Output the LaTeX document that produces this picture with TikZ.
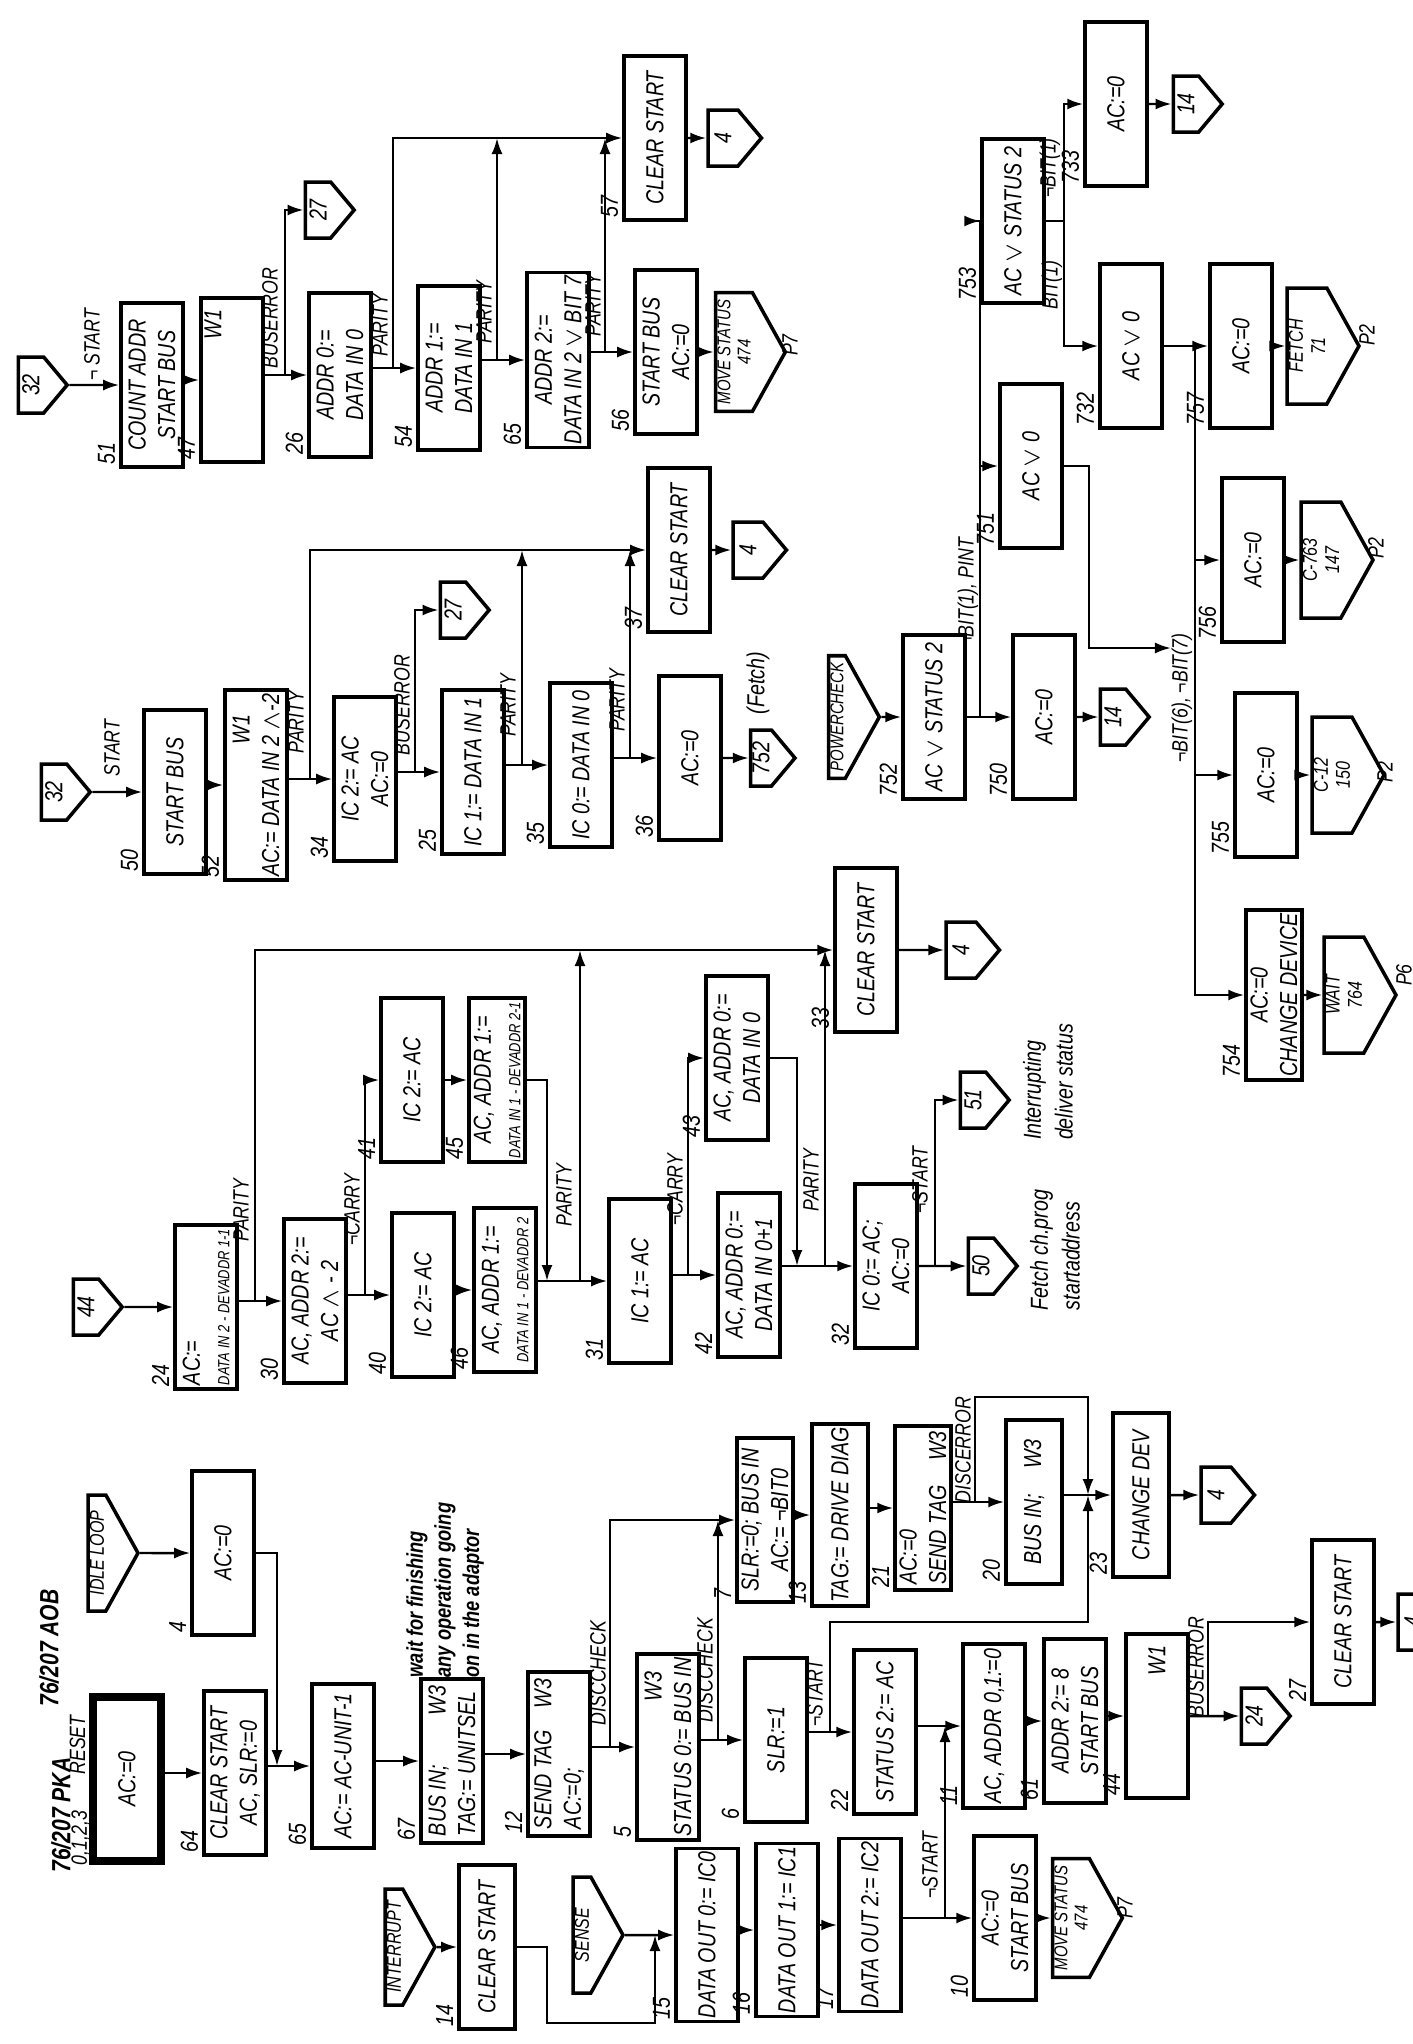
\documentclass[tikz,border=0pt]{standalone}
\usepackage{fontspec}
\usepackage{tikz}
\usetikzlibrary{arrows.meta,shapes.symbols}
\newfontfamily\hand[FakeStretch=0.8]{Liberation Sans}
\newcommand{\boxfont}{\hand\itshape\fontsize{7}{8.4}\selectfont}
\newcommand{\tagfont}{\hand\itshape\fontsize{6.3}{7.5}\selectfont}
\newcommand{\tinyfont}{\hand\itshape\fontsize{4.6}{5.5}\selectfont}
\newcommand{\notefont}{\hand\itshape\bfseries\fontsize{6.5}{8}\selectfont}

\begin{document}
\begin{tikzpicture}[x=0.1mm, y=-0.1mm,
    box/.style={draw, line width=1pt, rotate=90, minimum width=16.4mm,
                minimum height=6.2mm, inner sep=1pt, align=center, font=\boxfont},
    narrow/.style={minimum height=5.6mm},
    conn/.style={draw, line width=1pt, rotate=90, shape=signal, signal to=south,
                 signal pointer angle=100, minimum width=5.6mm, minimum height=3.6mm,
                 inner sep=0.5pt, align=center, font=\boxfont},
    wide/.style={minimum width=11.6mm, signal pointer angle=122, inner xsep=2pt,
                 font=\hand\itshape\fontsize{5.7}{6.3}\selectfont},
    tight/.style={font=\hand\itshape\fontsize{5.3}{5.8}\selectfont},
    num/.style={rotate=90, anchor=south west, inner sep=1pt, font=\boxfont},
    tag/.style={rotate=90, inner sep=0pt, font=\tagfont},
    note/.style={rotate=90, inner sep=0pt, align=left, font=\notefont},
    arrow/.style={-{Latex[length=1.6mm,width=1.1mm]}, line width=0.7pt},
    line/.style={line width=0.7pt}
]
\useasboundingbox (0,0) rectangle (1413,2044);

% top row: 32 -> count addr
\node[conn] (c32a) at (31,385) {32};
\node[box] (b51) at (152,385) {COUNT ADDR\\START BUS};
\node[box] (b47) at (232,380) {\makebox[14mm][r]{W1}\\\strut};
\node[box] (b26) at (340,375) {ADDR 0:=\\DATA IN 0};
\node[box] (b54) at (449,368) {ADDR 1:=\\DATA IN 1};
\node[box] (b65) at (558,360) {ADDR 2:=\\DATA IN 2 $\vee$ BIT 7};
\node[box] (b56) at (666,352) {START BUS\\AC:=0};
\node[conn, wide, tight] (cMv1) at (734,352) {MOVE STATUS\\474};
\node[box] (b57) at (655,138) {CLEAR START};
\node[conn] (c4a) at (723,138) {4};
\node[conn] (c27a) at (318,210) {27};
\node[num] (l51) at (b51.north west) {51};
\node[num] (l47) at (b47.north west) {47};
\node[num] (l26) at (b26.north west) {26};
\node[num] (l54) at (b54.north west) {54};
\node[num] (l65) at (b65.north west) {65};
\node[num] (l56) at (b56.north west) {56};
\node[num] (l57) at (b57.north west) {57};
\coordinate (jb1) at (285,375);
\coordinate (jp1) at (393,368);
\coordinate (jp2) at (497,360);
\coordinate (jp3) at (605,352);
\draw[arrow] (c32a) -- (b51);
\draw[arrow] (b51.south |- b47) -- (b47);
\draw[arrow] (b47.south |- b26) -- (b26);
\draw[arrow] (b26.south |- b54) -- (b54);
\draw[arrow] (b54.south |- b65) -- (b65);
\draw[arrow] (b65.south |- b56) -- (b56);
\draw[arrow] (b56) -- (cMv1);
\draw[arrow] (b57) -- (c4a);
\draw[arrow] (jb1) |- (c27a);
\draw[arrow] (jp1) |- (b57);
\draw[arrow] (jp2) -- (jp2 |- b57);
\draw[arrow] (jp3) -- (jp3 |- b57);
\node[tag] (t1) at (92,345) {¬ START};
\node[tag] (t2) at (270,318) {BUSERROR};
\node[tag] (t3) at (380,325) {PARITY};
\node[tag] (t4) at (484,312) {PARITY};
\node[tag] (t5) at (593,305) {PARITY};
\node[tag] (p7a) at (790,345) {P7};

% second row: 32 -> start bus
\node[conn] (c32b) at (54,792) {32};
\node[box] (b50) at (175,792) {START BUS};
\node[box] (b52) at (256,785) {\makebox[14mm][r]{W1}\\AC:= DATA IN 2 $\wedge$-2};
\node[box] (b34) at (365,779) {IC 2:= AC\\AC:=0};
\node[box] (b25) at (473,772) {IC 1:= DATA IN 1};
\node[box] (b35) at (581,765) {IC 0:= DATA IN 0};
\node[box] (b36) at (690,758) {AC:=0};
\node[conn] (c752) at (761,758) {752};
\node[box] (b37) at (679,550) {CLEAR START};
\node[conn] (c4b) at (748,550) {4};
\node[conn] (c27b) at (453,610) {27};
\node[num] (l50) at (b50.north west) {50};
\node[num] (l52) at (b52.north west) {52};
\node[num] (l34) at (b34.north west) {34};
\node[num] (l25) at (b25.north west) {25};
\node[num] (l35) at (b35.north west) {35};
\node[num] (l36) at (b36.north west) {36};
\node[num] (l37) at (b37.north west) {37};
\coordinate (jp4) at (310,779);
\coordinate (jb2) at (415,772);
\coordinate (jp5) at (522,765);
\coordinate (jp6) at (630,758);
\draw[arrow] (c32b) -- (b50);
\draw[arrow] (b50.south |- b52) -- (b52);
\draw[arrow] (b52.south |- b34) -- (b34);
\draw[arrow] (b34.south |- b25) -- (b25);
\draw[arrow] (b25.south |- b35) -- (b35);
\draw[arrow] (b35.south |- b36) -- (b36);
\draw[arrow] (b36) -- (c752);
\draw[arrow] (b37) -- (c4b);
\draw[arrow] (jp4) |- (b37);
\draw[arrow] (jb2) |- (c27b);
\draw[arrow] (jp5) -- (jp5 |- b37);
\draw[arrow] (jp6) -- (jp6 |- b37);
\node[tag] (t6) at (112,748) {START};
\node[tag] (t7) at (296,722) {PARITY};
\node[tag] (t8) at (402,705) {BUSERROR};
\node[tag] (t9) at (508,705) {PARITY};
\node[tag] (t10) at (617,700) {PARITY};
\node[note, font=\hand\itshape\fontsize{7}{8}\selectfont] (nFe) at (758,683) {(Fetch)};

% powercheck
\node[conn, wide, tight] (cPow) at (837,717) {POWERCHECK};
\node[box] (b752) at (934,717) {AC $\vee$ STATUS 2};
\node[box] (b750) at (1044,717) {AC:=0};
\node[conn] (c14b) at (1113,717) {14};
\node[box] (b751) at (1031,466) {AC $\vee$ 0};
\node[box] (b753) at (1013,221) {AC $\vee$ STATUS 2};
\node[box] (b733) at (1116,104) {AC:=0};
\node[conn] (c14a) at (1186,104) {14};
\node[box] (b732) at (1131,346) {AC $\vee$ 0};
\node[box] (b757) at (1241,346) {AC:=0};
\node[conn, wide] (cFet) at (1307,346) {FETCH\\71};
\node[box] (b756) at (1253,560) {AC:=0};
\node[conn, wide] (c763) at (1321,560) {C-763\\147};
\node[box] (b755) at (1266,775) {AC:=0};
\node[conn, wide] (c12) at (1332,775) {C-12\\150};
\node[box, narrow] (b754) at (1274,995) {AC:=0\\CHANGE DEVICE};
\node[conn, wide] (cWait) at (1344,995) {WAIT\\764};
\node[num] (l752) at (b752.north west) {752};
\node[num] (l750) at (b750.north west) {750};
\node[num] (l751) at (b751.north west) {751};
\node[num] (l753) at (b753.north west) {753};
\node[num] (l733) at (b733.north west) {733};
\node[num] (l732) at (b732.north west) {732};
\node[num] (l757) at (b757.north west) {757};
\node[num] (l756) at (b756.north west) {756};
\node[num] (l755) at (b755.north west) {755};
\node[num] (l754) at (b754.north west) {754};
\node[tag] (t11) at (968,593) {¬BIT(1), PINT};
\node[tag] (t12) at (1050,168) {¬BIT(1)};
\node[tag] (t13) at (1052,285) {BIT(1)};
\node[tag] (t14) at (1182,698) {¬BIT(6), ¬BIT(7)};
\node[tag] (p2a) at (1367,335) {P2};
\node[tag] (p2b) at (1376,548) {P2};
\node[tag] (p2c) at (1385,772) {P2};
\node[tag] (p6) at (1404,975) {P6};
\coordinate (jk) at (980,717);
\coordinate (jt) at (1064,221);
\coordinate (jbus) at (1195,346);
\coordinate (jb6) at (1195,648);
\draw[arrow] (cPow) -- (b752);
\draw[arrow] (b752) -- (b750);
\draw[arrow] (b750) -- (c14b);
\draw[arrow] (jk) |- (b751);
\draw[arrow] (jk) |- (b753);
\draw[line] (b753) -- (jt);
\draw[arrow] (jt) |- (b733);
\draw[arrow] (jt) |- (b732);
\draw[arrow] (b733) -- (c14a);
\draw[arrow] (b732) -- (b757);
\draw[arrow] (b757) -- (cFet);
\draw[arrow] (b751.south) -- ++(25,0) |- (t14.north |- jb6);
\draw[arrow] (jbus) |- (b754);
\draw[arrow] (jbus |- b756) -- (b756);
\draw[arrow] (jbus |- b755) -- (b755);
\draw[arrow] (b756) -- (c763);
\draw[arrow] (b755) -- (c12);
\draw[arrow] (b754) -- (cWait);

% third row: 44 -> devaddr
\node[conn] (c44) at (86,1307) {44};
\node[box, align=left] (b24) at (206,1307) {AC:=\\{\tinyfont DATA IN 2 - DEVADDR 1-1}};
\node[box] (b30) at (315,1301) {AC, ADDR 2:=\\AC $\wedge$ - 2};
\node[box] (b40) at (423,1295) {IC 2:= AC};
\node[box] (b46) at (505,1290) {AC, ADDR 1:=\\{\tinyfont DATA IN 1 - DEVADDR 2}};
\node[box] (b31) at (640,1281) {IC 1:= AC};
\node[box] (b42) at (749,1275) {AC, ADDR 0:=\\DATA IN 0+1};
\node[box] (b32) at (886,1266) {IC 0:= AC;\\AC:=0};
\node[conn] (c50) at (981,1266) {50};
\node[box] (b41) at (412,1080) {IC 2:= AC};
\node[box, narrow] (b45) at (497,1080) {AC, ADDR 1:=\\{\tinyfont DATA IN 1 - DEVADDR 2-1}};
\node[box] (b43) at (737,1058) {AC, ADDR 0:=\\DATA IN 0};
\node[box] (b33) at (866,950) {CLEAR START};
\node[conn] (c4c) at (961,950) {4};
\node[conn] (c51) at (973,1100) {51};
\node[num] (l24) at (b24.north west) {24};
\node[num] (l30) at (b30.north west) {30};
\node[num] (l40) at (b40.north west) {40};
\node[num] (l46) at (b46.north west) {46};
\node[num] (l31) at (b31.north west) {31};
\node[num] (l42) at (b42.north west) {42};
\node[num] (l32) at (b32.north west) {32};
\node[num] (l41) at (b41.north west) {41};
\node[num] (l45) at (b45.north west) {45};
\node[num] (l43) at (b43.north west) {43};
\node[num] (l33) at (b33.north west) {33};
\coordinate (jp7) at (255,1301);
\coordinate (jc1) at (365,1295);
\coordinate (j45) at (547,1281);
\coordinate (jp8) at (580,1281);
\coordinate (jc2) at (688,1275);
\coordinate (j43) at (797,1266);
\coordinate (jp9) at (825,1266);
\coordinate (js1) at (935,1266);
\draw[arrow] (c44) -- (b24);
\draw[arrow] (b24.south |- b30) -- (b30);
\draw[arrow] (b30.south |- b40) -- (b40);
\draw[arrow] (b40.south |- b46) -- (b46);
\draw[arrow] (b46.south |- b31) -- (b31);
\draw[arrow] (b31.south |- b42) -- (b42);
\draw[arrow] (b42.south |- b32) -- (b32);
\draw[arrow] (b32) -- (c50);
\draw[arrow] (b41) -- (b45);
\draw[arrow] (b33) -- (c4c);
\draw[arrow] (jp7) |- (b33);
\draw[arrow] (jc1) |- (b41);
\draw[arrow] (b45.south) -| (j45);
\draw[arrow] (jp8) -- (jp8 |- b33);
\draw[arrow] (jc2) |- (b43);
\draw[arrow] (b43.south) -| (j43);
\draw[arrow] (jp9) -- (jp9 |- b33);
\draw[arrow] (js1) |- (c51);
\node[tag] (t15) at (241,1210) {PARITY};
\node[tag] (t16) at (352,1210) {¬CARRY};
\node[tag] (t17) at (564,1195) {PARITY};
\node[tag] (t18) at (675,1190) {¬CARRY};
\node[tag] (t19) at (811,1180) {PARITY};
\node[tag] (t20) at (920,1180) {¬START};
\node[note, font=\hand\itshape\fontsize{7}{9}\selectfont] (nInt) at (1048,1082) {Interrupting\\deliver status};
\node[note, font=\hand\itshape\fontsize{7}{9}\selectfont] (nSta) at (1055,1250) {Fetch ch.prog\\startaddress};

% bottom rows: reset, idle loop, interrupt, sense
\node[tag, font=\hand\itshape\bfseries\fontsize{7.5}{9}\selectfont] (hd1) at (61,1815) {76/207 PKA};
\node[tag, font=\hand\itshape\bfseries\fontsize{7.5}{9}\selectfont] (hd2) at (49,1648) {76/207 AOB};
\node[tag] (hd3) at (84,1838) {\underline{0,1,2,3}};
\node[tag] (hd4) at (81,1745) {\underline{RESET}};
\node[box, line width=2.2pt, minimum height=6.8mm] (bRst) at (127,1779) {AC:=0};
\node[conn, wide] (cIdle) at (97,1553) {IDLE LOOP};
\node[box] (b4) at (223,1553) {AC:=0};
\node[box] (b64) at (235,1773) {CLEAR START\\AC, SLR:=0};
\node[box] (b65u) at (343,1766) {AC:= AC-UNIT-1};
\node[box, align=left] (b67) at (452,1761) {\makebox[15mm][l]{BUS IN;\hfill W3}\\TAG:= UNITSEL};
\node[box, align=left] (b12) at (559,1754) {\makebox[15mm][l]{SEND TAG\hfill W3}\\AC:=0;};
\node[box] (b5) at (668,1747) {\makebox[15mm][r]{W3}\\STATUS 0:= BUS IN};
\node[box] (b6) at (776,1740) {SLR:=1};
\node[box] (b22) at (885,1732) {STATUS 2:= AC};
\node[box] (b11) at (994,1726) {AC, ADDR 0,1:=0};
\node[box] (b61) at (1075,1721) {ADDR 2:= 8\\START BUS};
\node[box] (b44) at (1157,1716) {\makebox[14mm][r]{W1}};
\node[conn] (c24) at (1254,1716) {24};
\node[box] (b27) at (1343,1622) {CLEAR START};
\node[conn] (c4d) at (1413,1622) {4};
\node[box, narrow] (b7) at (765,1520) {SLR:=0; BUS IN\\AC:= ¬BIT0};
\node[box, narrow] (b13) at (840,1515) {TAG:= DRIVE DIAG};
\node[box, narrow, align=left] (b21) at (923,1508) {AC:=0\\SEND TAG\quad W3};
\node[box, narrow] (b20) at (1034,1502) {BUS IN;\quad W3};
\node[box, narrow] (b23) at (1141,1495) {CHANGE DEV};
\node[conn] (c4e) at (1216,1495) {4};
\node[conn, wide] (cInt) at (394,1947) {INTERRUPT};
\node[box, narrow] (b14) at (487,1947) {CLEAR START};
\node[conn, wide] (cSen) at (582,1935) {SENSE};
\node[box] (b15) at (707,1935) {DATA OUT 0:= IC0};
\node[box] (b16) at (787,1930) {DATA OUT 1:= IC1};
\node[box] (b17) at (870,1925) {DATA OUT 2:= IC2};
\node[box] (b10) at (1005,1918) {AC:=0\\START BUS};
\node[conn, wide, tight] (cMv2) at (1071,1918) {MOVE STATUS\\474};
\node[num] (l4) at (b4.north west) {4};
\node[num] (l64) at (b64.north west) {64};
\node[num] (l65u) at (b65u.north west) {65};
\node[num] (l67) at (b67.north west) {67};
\node[num] (l12) at (b12.north west) {12};
\node[num] (l5) at (b5.north west) {5};
\node[num] (l6) at (b6.north west) {6};
\node[num] (l22) at (b22.north west) {22};
\node[num] (l11) at (b11.north west) {11};
\node[num] (l61) at (b61.north west) {61};
\node[num] (l44) at (b44.north west) {44};
\node[num] (l27) at (b27.north west) {27};
\node[num] (l7) at (b7.north west) {7};
\node[num] (l13) at (b13.north west) {13};
\node[num] (l21) at (b21.north west) {21};
\node[num] (l20) at (b20.north west) {20};
\node[num] (l23) at (b23.north west) {23};
\node[num] (l14) at (b14.north west) {14};
\node[num] (l15) at (b15.north west) {15};
\node[num] (l16) at (b16.north west) {16};
\node[num] (l17) at (b17.north west) {17};
\node[num] (l10) at (b10.north west) {10};
\coordinate (j4) at (277,1766);
\coordinate (jd1) at (610,1747);
\coordinate (jd2) at (718,1740);
\coordinate (js2) at (830,1732);
\coordinate (jde) at (975,1502);
\coordinate (j23) at (1088,1495);
\coordinate (jbe) at (1208,1716);
\coordinate (jS) at (655,1935);
\coordinate (js3) at (945,1918);
\draw[arrow] (cIdle) -- (b4);
\draw[arrow] (bRst.south |- b64) -- (b64);
\draw[arrow] (b64.south |- b65u) -- (b65u);
\draw[arrow] (b4.south) -| (j4);
\draw[arrow] (b65u.south |- b67) -- (b67);
\draw[arrow] (b67.south |- b12) -- (b12);
\draw[arrow] (b12.south |- b5) -- (b5);
\draw[arrow] (b5.south |- b6) -- (b6);
\draw[arrow] (b6.south |- b22) -- (b22);
\draw[arrow] (b22.south |- b11) -- (b11);
\draw[arrow] (b11.south |- b61) -- (b61);
\draw[arrow] (b61.south |- b44) -- (b44);
\draw[arrow] (b44) -- (c24);
\draw[arrow] (jbe) |- (b27);
\draw[arrow] (b27) -- (c4d);
\draw[arrow] (jd1) |- (b7);
\draw[arrow] (jd2) -- (jd2 |- b7);
\draw[arrow] (b7.south |- b13) -- (b13);
\draw[arrow] (b13.south |- b21) -- (b21);
\draw[arrow] (b21.south |- b20) -- (b20);
\draw[arrow] (b20.south |- b23) -- (b23);
\draw[arrow] (b23) -- (c4e);
\draw[arrow] (jde) |- (j23 |- 0,1397) -- (j23);
\draw[arrow] (js2) |- (j23 |- 0,1622) -- (j23);
\draw[arrow] (cInt) -- (b14);
\draw[arrow] (b14.south) -- ++(30,0) |- (jS |- 0,2023) -- (jS);
\draw[arrow] (cSen) -- (b15);
\draw[arrow] (b15.south |- b16) -- (b16);
\draw[arrow] (b16.south |- b17) -- (b17);
\draw[arrow] (b17.south |- b10) -- (b10);
\draw[arrow] (js3) -- (js3 |- b11);
\draw[arrow] (b10) -- (cMv2);
\node[tag] (t21) at (598,1673) {DISCCHECK};
\node[tag] (t22) at (705,1670) {DISCCHECK};
\node[tag] (t23) at (815,1693) {¬START};
\node[tag] (t24) at (930,1865) {¬START};
\node[tag] (t25) at (963,1450) {DISCERROR};
\node[tag] (t26) at (1196,1667) {BUSERROR};
\node[tag] (p7b) at (1125,1908) {P7};
\node[note] (nWait) at (445,1590) {wait for finishing\\any operation going\\on in the adaptor};
\end{tikzpicture}
\end{document}
